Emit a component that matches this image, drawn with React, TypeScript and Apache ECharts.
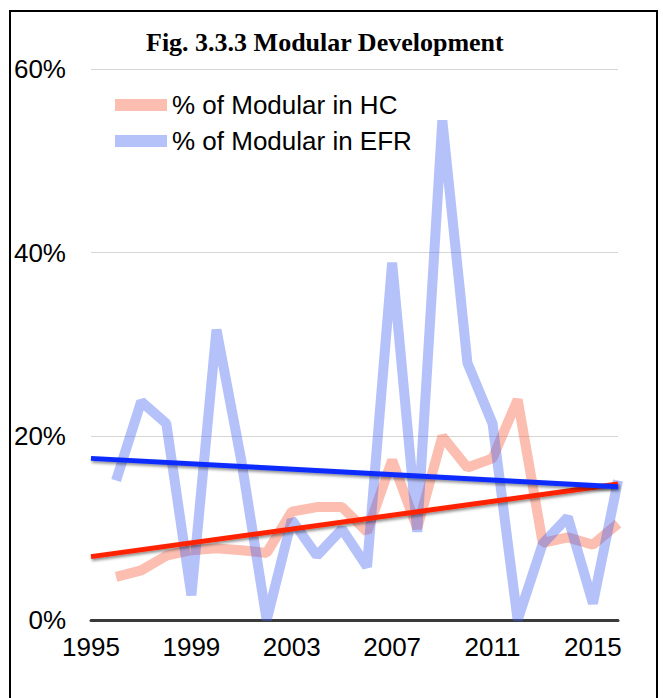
import React, { useEffect, useRef } from "react";
import * as echarts from "echarts";

const axisYears = [
  "1995", "1996", "1997", "1998", "1999", "2000", "2001", "2002", "2003", "2004", "2005",
  "2006", "2007", "2008", "2009", "2010", "2011", "2012", "2013", "2014", "2015", "2016",
];
const dataYears = [
  "1996", "1997", "1998", "1999", "2000", "2001", "2002", "2003", "2004", "2005",
  "2006", "2007", "2008", "2009", "2010", "2011", "2012", "2013", "2014", "2015", "2016",
];
const hcValues = [4.7, 5.4, 7.0, 7.6, 7.8, 7.6, 7.3, 11.8, 12.3, 12.3, 9.6, 17.4, 10.0, 20.0, 16.6, 17.6, 24.0, 8.4, 9.0, 8.2, 10.5];
const efrValues = [15.2, 23.8, 21.4, 2.7, 31.6, 17.2, 0, 10.9, 7.0, 9.9, 5.8, 38.9, 9.6, 54.4, 28.0, 21.4, 0, 8.3, 11.2, 1.8, 15.2];
const trendYears = ["1995", "2016"];
const hcTrend = [6.9, 14.8];
const efrTrend = [17.6, 14.5];

const hcName = "% of Modular in HC";
const efrName = "% of Modular in EFR";
const titleText = "Fig. 3.3.3 Modular Development";

const sans = "'Liberation Sans', Arial, sans-serif";
const serif = "'Liberation Serif', 'Times New Roman', serif";

export default function App() {
  const ref = useRef<HTMLDivElement>(null);
  useEffect(() => {
    if (!ref.current) return;
    const chart = echarts.init(ref.current, undefined, { renderer: "svg" });
    const pairs = (xs: string[], ys: number[]) => xs.map((x, i) => [x, ys[i]]);
    const trendStyle = (color: string) => ({
      color,
      width: 5,
      shadowColor: "rgba(0,0,0,0.45)",
      shadowBlur: 3,
      shadowOffsetY: 2,
      shadowOffsetX: 1,
    });
    chart.setOption({
      animation: false,
      backgroundColor: "#ffffff",
      title: {
        text: titleText,
        left: 141,
        top: 24,
        textStyle: { fontFamily: serif, fontWeight: "bold", fontSize: 26, color: "#000" },
      },
      legend: {
        data: [hcName, efrName],
        orient: "vertical",
        left: 110,
        top: 87,
        icon: "rect",
        itemWidth: 52,
        itemHeight: 12,
        itemGap: 10,
        textStyle: { fontFamily: sans, fontSize: 26, color: "#000" },
      },
      graphic: [
        {
          type: "rect",
          silent: true,
          shape: { x: 10, y: 11, width: 647, height: 700 },
          style: { fill: "none", stroke: "#000", lineWidth: 2 },
        },
      ],
      grid: { left: 91, right: 45, top: 69, bottom: 78 },
      xAxis: {
        type: "category",
        data: axisYears,
        boundaryGap: false,
        axisLine: { lineStyle: { color: "#3a3a3a", width: 3 } },
        axisTick: { show: false },
        axisLabel: { interval: 3, fontFamily: sans, fontSize: 26, color: "#000", margin: 14 },
        splitLine: { show: false },
      },
      yAxis: {
        type: "value",
        min: 0,
        max: 60,
        interval: 20,
        axisLine: { show: false },
        axisTick: { show: false },
        axisLabel: { formatter: "{value}%", fontFamily: sans, fontSize: 26, color: "#000", margin: 25 },
        splitLine: { lineStyle: { color: "#d6d6d6", width: 1 } },
      },
      series: [
        {
          name: hcName,
          type: "line",
          data: pairs(dataYears, hcValues),
          showSymbol: false,
          color: "rgba(245,100,70,0.42)",
          lineStyle: { width: 10, color: "rgba(245,100,70,0.42)" },
          z: 2,
        },
        {
          name: efrName,
          type: "line",
          data: pairs(dataYears, efrValues),
          showSymbol: false,
          color: "rgba(70,100,240,0.40)",
          lineStyle: { width: 10, color: "rgba(70,100,240,0.40)" },
          z: 3,
        },
        {
          name: "HC trend",
          type: "line",
          data: pairs(trendYears, hcTrend),
          showSymbol: false,
          color: "#ff2400",
          lineStyle: trendStyle("#ff2400"),
          z: 4,
        },
        {
          name: "EFR trend",
          type: "line",
          data: pairs(trendYears, efrTrend),
          showSymbol: false,
          color: "#0a2cff",
          lineStyle: trendStyle("#0a2cff"),
          z: 5,
        },
      ],
    });
    return () => chart.dispose();
  }, []);
  return (
    <div
      ref={ref}
      style={{ position: "absolute", left: 0, top: 0, width: 663, height: 698, background: "#fff" }}
    />
  );
}
